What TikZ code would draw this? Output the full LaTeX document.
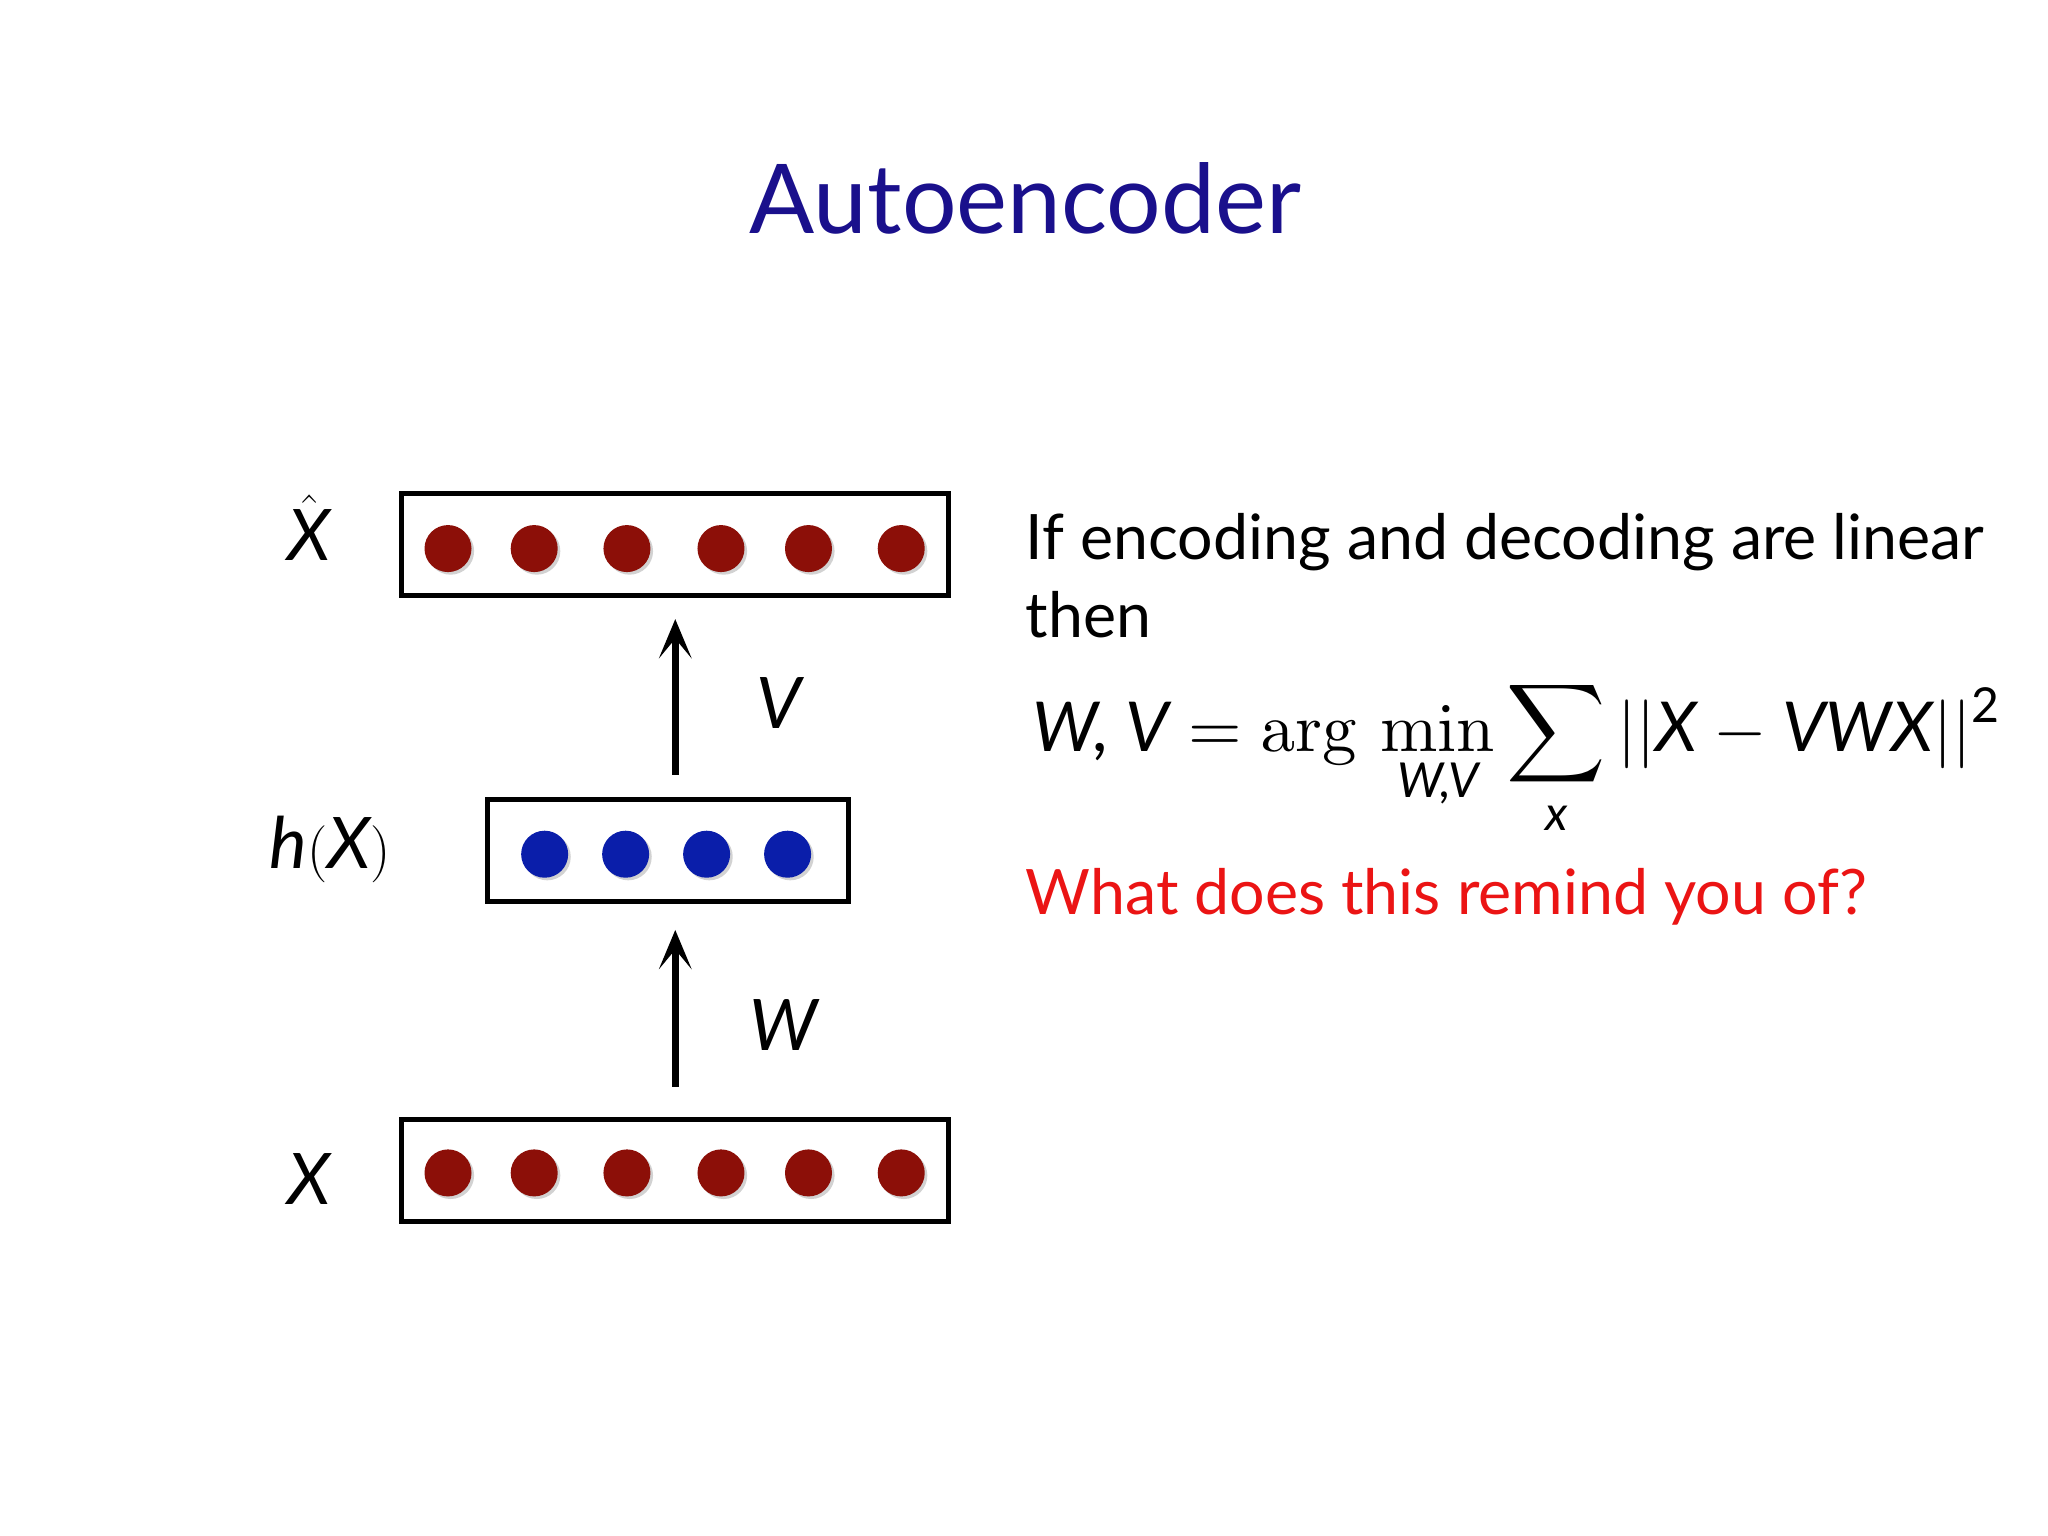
\documentclass[tikz,border=0pt]{standalone}
\usetikzlibrary{shadows,arrows.meta}
\usepackage{amsmath}
\usepackage{graphicx}
\usepackage[no-math]{fontspec}
\setmainfont{Lato}
\newcommand{\iv}[1]{\text{\itshape #1}}
\definecolor{ttl}{RGB}{26,16,140}
\definecolor{rdot}{RGB}{140,15,8}
\definecolor{bdot}{RGB}{10,30,170}
\definecolor{qred}{RGB}{235,20,20}
\begin{document}
\begin{tikzpicture}[x=0.02cm,y=-0.02cm,
  layer/.style={draw=black,line width=2.2pt},
  rd/.style={circle,fill=rdot,minimum size=0.72cm,inner sep=0pt,drop shadow={opacity=0.35,shadow xshift=0.04cm,shadow yshift=-0.04cm}},
  bd/.style={circle,fill=bdot,minimum size=0.72cm,inner sep=0pt,drop shadow={opacity=0.35,shadow xshift=0.04cm,shadow yshift=-0.04cm}},
  arr/.style={-{Stealth[length=0.6cm,width=0.5cm,inset=0.3cm]},line width=3pt},
  lbl/.style={font=\fontsize{31pt}{34pt}\selectfont\itshape},
  txt/.style={font=\fontsize{27.3pt}{31pt}\selectfont,anchor=base west,inner sep=0pt}]
\fill[white] (0,0) rectangle (1568,1176);
\useasboundingbox (0,0) rectangle (1568,1176);
\node[font=\fontsize{42pt}{46pt}\selectfont,text=ttl] (title) at (785,152) {Autoencoder};
% boxes
\node[layer,minimum width=8.38cm,minimum height=1.56cm] (top) at (516.5,417) {};
\node[layer,minimum width=5.54cm,minimum height=1.56cm] (mid) at (511.5,651) {};
\node[layer,minimum width=8.38cm,minimum height=1.56cm] (bot) at (516.5,896) {};
\foreach \x [count=\i] in {343,409,480,552,619,690}{
  \node[rd] (t\i) at (\x,420) {};
  \node[rd] (b\i) at (\x,898) {};
}
\foreach \x [count=\i] in {417,479,541,603}{
  \node[bd] (m\i) at (\x,654) {};
}
\coordinate (a1s) at (517,593); \coordinate (a1e) at (517,474);
\coordinate (a2s) at (517,832); \coordinate (a2e) at (517,712);
\draw[arr] (a1s) -- (a1e);
\draw[arr] (a2s) -- (a2e);
\node[lbl] (V) at (596,538) {V};
\node[lbl] (W) at (600,785) {W};
\node[lbl] (xh) at (237,404) {$\hat{\text{\itshape X}}$};
\node[lbl] (h) at (253,650) {h$($X$)$};
\node[lbl] (x) at (237,903) {X};
% text
\node[txt] (l1) at (785,428) {If encoding and decoding are linear};
\node[txt] (l2) at (785,488) {then};
\node[txt,font=\normalsize] (eq) at (790,575)
 {\scalebox{3.0}{$\displaystyle \iv{W, V} = \mathrm{arg}\,\min_{\iv{W,V}} \sum_{\iv{x}} ||\iv{X} - \iv{VWX}||^{\text{2}}$}};
\node[txt,text=qred] (q) at (785,700) {What does this remind you of?};
\end{tikzpicture}
\end{document}
